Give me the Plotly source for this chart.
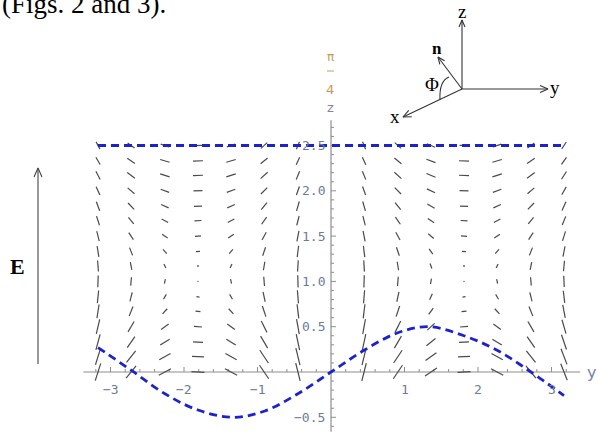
import math
import numpy as np
import plotly.graph_objects as go

W, H = 598, 436
X0PX, Z0PX = 331, 372      # pixel position of the origin
SX, SZ = 73.5, 90.6        # pixels per unit

# ---------------- data ----------------
x_cols = [-3.17, -2.72, -2.26, -1.81, -1.36, -0.91, -0.45,
          0.45, 0.91, 1.36, 1.81, 2.26, 2.72, 3.17]
psi_deg = [115, 140, 160, 182, 20, 45, 70,
           110, 135, 155, 178, 20, 40, 60]
z_rows = [0.0, 0.17, 0.33, 0.5, 0.67, 0.83, 1.0, 1.17,
          1.33, 1.5, 1.67, 1.83, 2.0, 2.17, 2.33, 2.5]
amp_y = [-13, -12, -10, -8, -5, -3, -1, 2, 4, 6, 7, 8, 9, 10, 10, 9]
amp_z = [19, 18, 17, 16, 15, 14, 13, 12, 12, 11, 10, 10, 9, 9, 8, 8]

curve_x = [-3.17, -2.72, -2.26, -1.81, -1.33, -0.9, -0.45, 0.0,
           0.45, 0.9, 1.33, 1.81, 2.26, 2.72, 3.17]
curve_z = [0.27, 0.02, -0.24, -0.42, -0.50, -0.43, -0.24, 0.0,
           0.24, 0.43, 0.50, 0.40, 0.24, 0.0, -0.26]
top_x = [-3.17, 3.17]
top_z = [2.5, 2.5]

x_tick_labels = [-3, -2, -1, 1, 2, 3]
z_tick_labels = [-0.5, 0.5, 1.0, 1.5, 2.0, 2.5]
x_axis_ext = [-3.37, 3.39]
z_axis_ext = [-0.66, 2.78]

# ---------------- figure ----------------
xr = [-X0PX / SX, (W - X0PX) / SX]
zr = [-(H - Z0PX) / SZ, Z0PX / SZ]
fig = go.Figure()

AXC = "#8e8e8e"
LBLC = "#6d7b9a"

# axes lines
fig.add_trace(go.Scatter(x=x_axis_ext, y=[0, 0], mode="lines",
                         line=dict(color=AXC, width=1.2), hoverinfo="skip", showlegend=False))
fig.add_trace(go.Scatter(x=[0, 0], y=z_axis_ext, mode="lines",
                         line=dict(color=AXC, width=1.2), hoverinfo="skip", showlegend=False))

# ticks
tx, ty = [], []
for v in np.arange(-3.2, 3.21, 0.2):
    v = round(v, 2)
    if abs(v) < 1e-9:
        continue
    major = abs(v - round(v)) < 1e-6
    L = (5 if major else 3) / SZ
    tx += [v, v, None]
    ty += [0, L, None]
for v in np.arange(-0.6, 2.71, 0.1):
    v = round(v, 2)
    if abs(v) < 1e-9:
        continue
    major = abs(v * 2 - round(v * 2)) < 1e-6
    L = (5 if major else 3) / SX
    tx += [0, L, None]
    ty += [v, v, None]
fig.add_trace(go.Scatter(x=tx, y=ty, mode="lines", line=dict(color=AXC, width=1),
                         hoverinfo="skip", showlegend=False))

# director segments
sx_, sz_ = [], []
for xc, p in zip(x_cols, psi_deg):
    pr = math.radians(p)
    for zc, ay, az in zip(z_rows, amp_y, amp_z):
        vy = ay * math.cos(pr) / SX * 0.5
        vz = az * math.sin(pr) / SZ * 0.5
        sx_ += [xc - vy, xc + vy, None]
        sz_ += [zc - vz, zc + vz, None]
fig.add_trace(go.Scatter(x=sx_, y=sz_, mode="lines", line=dict(color="#4a4a4a", width=1.2),
                         hoverinfo="skip", showlegend=False))

# blue dashed curves
BLUE = "#1c22cc"
fig.add_trace(go.Scatter(x=top_x, y=top_z, mode="lines",
                         line=dict(color=BLUE, width=2.8, dash="8px,5px"),
                         hoverinfo="skip", showlegend=False))
fig.add_trace(go.Scatter(x=curve_x, y=curve_z, mode="lines",
                         line=dict(color=BLUE, width=2.8, dash="8px,5px", shape="spline", smoothing=1.0),
                         hoverinfo="skip", showlegend=False))

annotations = []
for v in x_tick_labels:
    annotations.append(dict(x=v, y=-17 / SZ, xref="x", yref="y", text=("\u2212" + str(-v)) if v < 0 else str(v),
                            showarrow=False, font=dict(family="DejaVu Sans Mono", size=13, color=LBLC),
                            xanchor="center", yanchor="middle"))
for v in z_tick_labels:
    annotations.append(dict(x=-4 / SX, y=v, xref="x", yref="y",
                            text=("\u2212" if v < 0 else "") + f"{abs(v):.1f}",
                            showarrow=False, font=dict(family="DejaVu Sans Mono", size=13, color=LBLC),
                            xanchor="right", yanchor="middle"))

# ---------- decorations in pixel space (x2/y2) ----------
def arrow(x0, y0, x1, y1, head=8, half=3.5, color="#333", width=1.1):
    dx, dy = x1 - x0, y1 - y0
    L = math.hypot(dx, dy)
    ux, uy = dx / L, dy / L
    px_, py_ = -uy, ux
    bx, by = x1 - head * ux, y1 - head * uy
    xs = [x0, x1, None, bx + half * px_, x1, bx - half * px_]
    ys = [y0, y1, None, by + half * py_, y1, by - half * py_]
    fig.add_trace(go.Scatter(x=xs, y=ys, xaxis="x2", yaxis="y2", mode="lines",
                             line=dict(color=color, width=width), hoverinfo="skip", showlegend=False))

arrow(38, 364, 38, 168, head=9, half=4, color="#444", width=1.1)
arrow(462, 89, 462, 20, head=7, half=3)
arrow(462, 89, 548, 89, head=8, half=3.5)
arrow(462, 89, 403, 117, head=8, half=3.5)
arrow(462, 89, 438, 57, head=7, half=3)

shapes = [dict(type="path", xref="x2", yref="y2", path="M 440 100 Q 439 81 449 77",
               line=dict(color="#333", width=1.1))]

def txt(x, y, s, size, color="black", family="Liberation Serif", xa="center", ya="middle"):
    annotations.append(dict(x=x, y=y, xref="x2", yref="y2", text=s, showarrow=False,
                            font=dict(family=family, size=size, color=color), xanchor=xa, yanchor=ya))

txt(0, 4, "(Figs. 2 and 3).", 27, xa="left")
txt(17, 266, "<b>E</b>", 22)
txt(462, 11, "z", 19)
txt(555, 87, "y", 19)
txt(395, 116, "x", 19)
txt(437, 48, "<b>n</b>", 17)
txt(432, 84, "\u03a6", 19)

# axis labels
txt(330, 57, "\u03c0", 12, color="#c49a5a", family="DejaVu Sans")
shapes.append(dict(type="line", xref="x2", yref="y2", x0=327, x1=334, y0=71, y1=71,
                   line=dict(color="#c49a5a", width=1)))
txt(330, 89, "4", 13, color="#c49a5a", family="DejaVu Sans")
txt(330, 107, "z", 13, color="#8a80a2", family="DejaVu Sans")
txt(591, 372, "y", 16, color="#7482b2", family="DejaVu Sans")

fig.update_layout(
    width=W, height=H, margin=dict(l=0, r=0, t=0, b=0),
    paper_bgcolor="white", plot_bgcolor="white", showlegend=False,
    xaxis=dict(range=xr, visible=False, fixedrange=True),
    yaxis=dict(range=zr, visible=False, fixedrange=True),
    xaxis2=dict(range=[0, W], visible=False, overlaying="x", anchor="y2", fixedrange=True),
    yaxis2=dict(range=[H, 0], visible=False, overlaying="y", anchor="x2", fixedrange=True),
    annotations=annotations, shapes=shapes,
)
fig.write_html("out.html", config={"displayModeBar": False},
               post_script="document.body.style.margin='0px';document.body.style.padding='0px';")
